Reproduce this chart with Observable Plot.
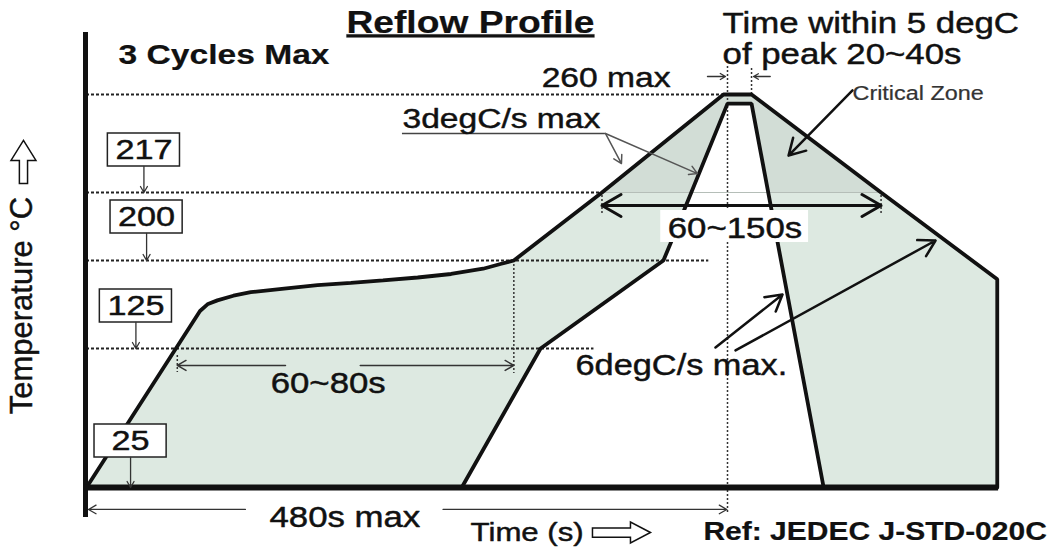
<!DOCTYPE html>
<html><head><meta charset="utf-8">
<script src="https://cdn.jsdelivr.net/npm/d3@7"></script>
<script src="https://cdn.jsdelivr.net/npm/@observablehq/plot@0.6"></script>
<style>body{margin:0;background:#fff;} #chart svg{display:block}</style>
</head><body><div id="chart"></div>
<script>
// ---------- data (time in s, temperature in °C) ----------
// Maximum (outer) reflow profile
const maxTime = [0, 85, 91, 98, 110, 123, 148, 173, 198, 222, 248, 273, 297, 310, 320, 386, 477, 498, 595, 682, 682];
const maxTemp = [25, 157, 163, 166, 170, 173, 176, 179, 181, 183, 185.5, 188.5, 193, 197, 200, 217, 260, 260, 217, 184, 25];
// Minimum (inner) reflow profile
const minTime = [281, 340, 432, 437, 480, 498, 552];
const minTemp = [25, 125, 200, 204, 256, 256, 25];
// Guide levels (°C) and where each dotted guide stops (s)
const levels = [260, 217, 200, 125];
const levelEnds = [477, 386, 466, 380];
// Boxed level labels
const boxLevels = [217, 200, 125, 25];
const boxLabels = ["217", "200", "125", "25"];
const boxTimes = [43, 45, 37, 33];
const boxGaps = [26, 27, 26, 30];
// Windows (s)
const soakWindow = [68, 320];       // 60~80s
const liquidusWindow = [386, 595];  // 60~150s above 217
const peakWindow = [480, 498];      // within 5 degC of peak
const maxDuration = 480;            // 480s max

// ---------- scales ----------
// schematic (non-uniform) temperature axis: piecewise mapping of the marked levels
const tempLevels = [25, 125, 200, 217, 260];
const tempHeights = [487, 348, 260, 192, 94];
const yS = d3.scaleLinear().domain(tempLevels).range(tempHeights);
const shiftY = (t, px) => yS.invert(yS(t) + px);

const maxProfile = maxTime.map((t, i) => ({t, temp: maxTemp[i]}));
const minProfile = minTime.map((t, i) => ({t, temp: minTemp[i]}));
const critical = maxProfile.filter(d => d.temp >= 217);

const FONT = "'Liberation Sans', Arial, Helvetica, sans-serif";
const ink = "#111";

// outlined block arrows as custom symbols
const upArrow = {draw(c, size) { const r = Math.sqrt(size / Math.PI);
  c.moveTo(0, -r); c.lineTo(0.58 * r, -0.07 * r); c.lineTo(0.19 * r, -0.07 * r); c.lineTo(0.19 * r, r);
  c.lineTo(-0.19 * r, r); c.lineTo(-0.19 * r, -0.07 * r); c.lineTo(-0.58 * r, -0.07 * r); c.closePath(); }};
const rightArrow = {draw(c, size) { const r = Math.sqrt(size / Math.PI);
  c.moveTo(r, 0); c.lineTo(0.31 * r, -0.36 * r); c.lineTo(0.31 * r, -0.16 * r); c.lineTo(-r, -0.16 * r);
  c.lineTo(-r, 0.16 * r); c.lineTo(0.31 * r, 0.16 * r); c.lineTo(0.31 * r, 0.36 * r); c.closePath(); }};

const dotted = {stroke: "#222", strokeWidth: 2, strokeDasharray: "3,2"};
const vdotted = {stroke: "#333", strokeWidth: 1.5, strokeDasharray: "2,2"};
const txt = (data, o) => Plot.text(data, {fontFamily: FONT, fill: ink, stroke: o.fill || ink, strokeWidth: 0.45, lineAnchor: "bottom", ...o});

const svg = Plot.plot({
  width: 1060, height: 554,
  margin: 0,
  x: {domain: [0, 480], range: [86, 727], axis: null},
  y: {type: "linear", transform: yS, domain: [0, 554], range: [0, 554], axis: null},
  style: {fontFamily: FONT, background: "white"},
  marks: [
    // fills
    Plot.areaY(maxProfile, {x: "t", y1: 25, y2: "temp", fill: "#dde9e1"}),
    Plot.areaY(critical, {x: "t", y1: 217, y2: "temp", fill: "#d2ddd6"}),
    Plot.areaY(minProfile, {x: "t", y1: 25, y2: "temp", fill: "white"}),
    Plot.ruleY([217], {x1: critical[0].t, x2: critical[critical.length - 1].t, stroke: "#b5beb8", strokeWidth: 1}),
    // dotted guides
    Plot.ruleY(levels, {y: d => d, x1: 0, x2: (d, i) => levelEnds[i], ...dotted}),
    Plot.ruleX([peakWindow[0]], {y1: shiftY(25, 25), y2: shiftY(260, -29), ...vdotted}),
    Plot.ruleX([peakWindow[1]], {y1: 260, y2: shiftY(260, -26), ...vdotted}),
    Plot.ruleX([soakWindow[1]], {y1: 200, y2: shiftY(125, 25), ...vdotted}),
    Plot.ruleX([soakWindow[0]], {y1: shiftY(125, 7), y2: shiftY(125, 24), ...vdotted}),
    Plot.ruleX(liquidusWindow, {y1: shiftY(217, 3), y2: shiftY(217, 23), ...vdotted}),
    // profiles
    Plot.line(maxProfile, {x: "t", y: "temp", stroke: ink, strokeWidth: 3.8, strokeLinejoin: "miter"}),
    Plot.line(minProfile, {x: "t", y: "temp", stroke: ink, strokeWidth: 3.8, strokeLinejoin: "miter"}),
    // axes lines
    Plot.ruleX([0], {y1: shiftY(25, 30), y2: shiftY(260, -62), stroke: ink, strokeWidth: 5, dx: -1}),
    Plot.ruleY([25], {x1: -1.5, x2: 683, stroke: ink, strokeWidth: 6}),
    // boxed labels
    Plot.rect(boxLevels, {x1: (d, i) => boxTimes[i] - 27, x2: (d, i) => boxTimes[i] + 27,
      y1: (d, i) => shiftY(d, -boxGaps[i]), y2: (d, i) => shiftY(d, -boxGaps[i] - 33),
      fill: "white", stroke: "#222", strokeWidth: 1.5}),
    Plot.arrow(boxLevels, {x1: (d, i) => boxTimes[i], x2: (d, i) => boxTimes[i],
      y1: (d, i) => shiftY(d, -boxGaps[i]), y2: d => d, stroke: "#333", strokeWidth: 1.3, headLength: 8}),
    Plot.text(boxLevels, {x: (d, i) => boxTimes[i], y: (d, i) => shiftY(d, -boxGaps[i] - 16.5),
      text: (d, i) => boxLabels[i], fontSize: 28.5, fontFamily: FONT, fill: ink, stroke: ink, strokeWidth: 0.45, lineAnchor: "middle"}),
    // 60~80s
    Plot.arrow([0], {x1: 149, x2: soakWindow[0], y1: 112.8, y2: 112.8, stroke: "#333", strokeWidth: 1.5, headLength: 10}),
    Plot.arrow([0], {x1: 205, x2: soakWindow[1], y1: 112.8, y2: 112.8, stroke: "#333", strokeWidth: 1.5, headLength: 10}),
    txt(["60~80s"], {x: 181, y: 93.3, textAnchor: "middle", fontSize: 29}),
    // 60~150s
    Plot.arrow([0], {x1: 491, x2: liquidusWindow[0], y1: 213.75, y2: 213.75, stroke: ink, strokeWidth: 3, headLength: 11}),
    Plot.arrow([0], {x1: 491, x2: liquidusWindow[1], y1: 213.75, y2: 213.75, stroke: ink, strokeWidth: 3, headLength: 11}),
    Plot.rect([0], {x1: 430, x2: 540.7, y1: 204.5, y2: 212.5, fill: "white"}),
    txt(["60~150s"], {x: 485.6, y: 205.75, textAnchor: "middle", fontSize: 29}),
    // 480s max
    Plot.arrow([0], {x1: 119, x2: 1.5, y1: 9.2, y2: 9.2, stroke: "#333", strokeWidth: 1.3, headLength: 10}),
    Plot.arrow([0], {x1: 267, x2: maxDuration - 0.5, y1: 9.2, y2: 9.2, stroke: "#333", strokeWidth: 1.3, headLength: 10}),
    txt(["480s max"], {x: 137, y: -3.1, textAnchor: "start", fontSize: 29}),
    // peak window markers
    Plot.arrow([0], {x1: 465, x2: peakWindow[0] - 1.5, y1: 267.9, y2: 267.9, stroke: "#333", strokeWidth: 1.3, headLength: 7}),
    Plot.arrow([0], {x1: 512, x2: peakWindow[1] + 1.5, y1: 267.9, y2: 267.9, stroke: "#333", strokeWidth: 1.3, headLength: 7}),
    txt(["260 max"], {x: 437.3, y: 263.5, textAnchor: "end", fontSize: 28}),
    txt(["Time within 5 degC\nof peak 20~40s"], {x: 476.3, y: 273.6, textAnchor: "start", fontSize: 29, lineHeight: 1.04}),
    // 3degC/s
    Plot.ruleY([242.9], {x1: 236.6, x2: 388.6, stroke: "#444", strokeWidth: 1.5}),
    Plot.arrow([0], {x1: 388.6, y1: 242.9, x2: 400.6, y2: 229.7, stroke: "#555", strokeWidth: 1.5, headLength: 9}),
    Plot.arrow([0], {x1: 388.6, y1: 242.9, x2: 457.5, y2: 225.3, stroke: "#555", strokeWidth: 1.5, headLength: 9}),
    txt(["3degC/s max"], {x: 236.6, y: 245.1, textAnchor: "start", fontSize: 28}),
    // critical zone
    Plot.arrow([0], {x1: 573.6, y1: 261.8, x2: 525.7, y2: 233.2, stroke: ink, strokeWidth: 2.5, headLength: 11}),
    txt(["Critical Zone"], {x: 573.6, y: 257.4, textAnchor: "start", fontSize: 19.5, fill: "#333", strokeWidth: 0.2}),
    // 6degC/s
    Plot.arrow([0], {x1: 471, y1: 125.9, x2: 521.2, y2: 171, stroke: ink, strokeWidth: 2.5, headLength: 11}),
    Plot.arrow([0], {x1: 486, y1: 123.6, x2: 635.8, y2: 205, stroke: ink, strokeWidth: 2.5, headLength: 11}),
    txt(["6degC/s max."], {x: 366.2, y: 105.6, textAnchor: "start", fontSize: 28.6}),
    // titles and axis labels
    txt(["Reflow Profile"], {x: 287.5, y: 287.2, textAnchor: "middle", fontSize: 31, fontWeight: "bold", strokeWidth: 0.2}),
    txt(["3 Cycles Max"], {x: 24, y: 273.2, textAnchor: "start", fontSize: 28, fontWeight: "bold", strokeWidth: 0.2}),
    txt(["Time (s)"], {x: 287.6, y: -13.8, textAnchor: "start", fontSize: 26}),
    Plot.dot([0], {x: 400.6, y: -7.4, r: 29, symbol: rightArrow, fill: "white", stroke: ink, strokeWidth: 1.5}),
    txt(["Ref: JEDEC J-STD-020C"], {x: 462, y: -13.1, textAnchor: "start", fontSize: 25, fontWeight: "bold", strokeWidth: 0.2}),
    txt(["Temperature °C"], {x: -40.5, y: 161.6, textAnchor: "middle", fontSize: 31, rotate: -90}),
    Plot.dot([0], {x: -47.2, y: 230.4, r: 21.5, symbol: upArrow, fill: "white", stroke: ink, strokeWidth: 1.5})
  ]
});

// horizontally stretched lettering, as in the reference
svg.querySelectorAll("text").forEach(t => {
  const tr = t.getAttribute("transform") || "";
  if (tr.includes("rotate")) return;
  if (tr) t.setAttribute("transform", tr + " scale(1.2,1)");
  else {
    const x = parseFloat(t.getAttribute("x")), y = parseFloat(t.getAttribute("y"));
    if (isFinite(x) && isFinite(y) && !String(t.getAttribute("y")).includes("em")) {
      t.removeAttribute("x"); t.removeAttribute("y");
      t.setAttribute("transform", `translate(${x},${y}) scale(1.2,1)`);
    }
  }
  if (t.textContent === "Reflow Profile") t.style.textDecoration = "underline";
});
document.getElementById("chart").appendChild(svg);
</script>
</body></html>
